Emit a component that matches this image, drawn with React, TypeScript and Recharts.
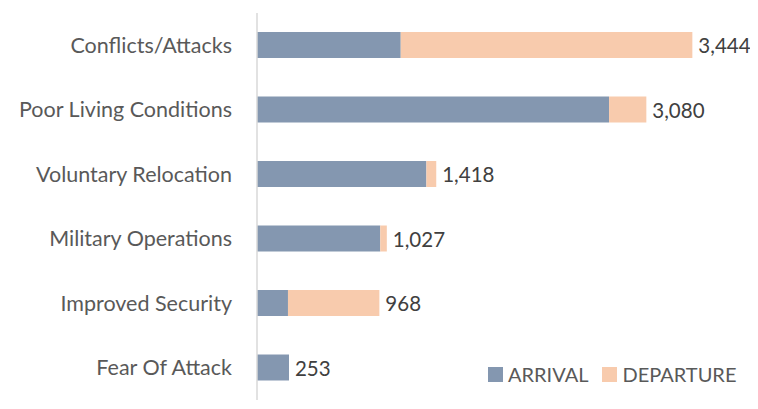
import { BarChart, Bar, XAxis, YAxis, LabelList } from 'recharts';

const categories = [
  'Conflicts/Attacks',
  'Poor Living Conditions',
  'Voluntary Relocation',
  'Military Operations',
  'Improved Security',
  'Fear Of Attack',
];
const arrival = [1137, 2785, 1340, 975, 245, 253];
const departure = [2307, 295, 78, 52, 723, 0];
const totals = [3444, 3080, 1418, 1027, 968, 253];

const data = categories.map((name, i) => ({
  name,
  arrival: arrival[i],
  departure: departure[i],
  total: totals[i],
}));

const FONT = 'Lato, "Open Sans", sans-serif';
const ARRIVAL_COLOR = '#8497b0';
const DEPARTURE_COLOR = '#f8cbad';

// total label drawn at the end of the stack; bars with no departure get it from arrival
function makeTotalLabel(onlyWhenNoDeparture: boolean) {
  return (props: any) => {
    const { x, y, width, height, index } = props;
    if (onlyWhenNoDeparture !== (departure[index] === 0)) return null;
    return (
      <text
        x={Number(x) + Number(width) + 6}
        y={Number(y) + Number(height) / 2}
        dominantBaseline="central"
        fill="#404040"
        fontSize={20.5}
        fontFamily={FONT}
      >
        {totals[index].toLocaleString('en-US')}
      </text>
    );
  };
}

function ChartLegend() {
  const items = [
    { label: 'ARRIVAL', color: ARRIVAL_COLOR },
    { label: 'DEPARTURE', color: DEPARTURE_COLOR },
  ];
  return (
    <div style={{ display: 'flex', alignItems: 'center', fontFamily: FONT, fontSize: 20, color: '#595959' }}>
      {items.map((it) => (
        <div key={it.label} style={{ display: 'flex', alignItems: 'center', marginRight: 14 }}>
          <span style={{ width: 15, height: 15, background: it.color, marginRight: 5, display: 'inline-block' }} />
          <span>{it.label}</span>
        </div>
      ))}
    </div>
  );
}

export default function App() {
  return (
    <div style={{ position: 'relative', margin: -8, width: 758, height: 409, background: '#fff', overflow: 'hidden' }}>
      <div style={{ position: 'absolute', left: 0, top: 0, width: 758, height: 3, background: '#d3e2ef' }} />
      <div style={{ position: 'absolute', left: 3, top: 0, width: 1, height: 409, background: '#d3e2ef' }} />
      <BarChart
        width={758}
        height={409}
        layout="vertical"
        data={data}
        margin={{ top: 13, right: 8, bottom: 9, left: 0 }}
        barSize={26}
      >
        <XAxis type="number" domain={[0, 3900]} hide />
        <YAxis
          type="category"
          dataKey="name"
          width={257}
          tickLine={false}
          tickMargin={19}
          axisLine={{ stroke: '#d9d9d9', strokeWidth: 1.5 }}
          tick={{ fill: '#595959', fontSize: 21.5, fontFamily: FONT }}
        />
        <Bar dataKey="arrival" stackId="a" fill={ARRIVAL_COLOR} isAnimationActive={false}>
          <LabelList dataKey="total" content={makeTotalLabel(true)} />
        </Bar>
        <Bar dataKey="departure" stackId="a" fill={DEPARTURE_COLOR} isAnimationActive={false}>
          <LabelList dataKey="total" content={makeTotalLabel(false)} />
        </Bar>
      </BarChart>
      <div style={{ position: 'absolute', left: 488, top: 362 }}>
        <ChartLegend />
      </div>
    </div>
  );
}
